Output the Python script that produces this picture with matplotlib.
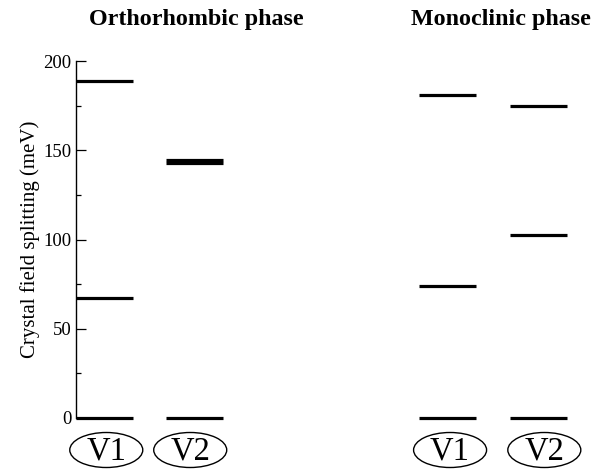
import matplotlib
matplotlib.use("Agg")
import matplotlib.pyplot as plt
from matplotlib.patches import Ellipse

plt.rcParams["font.family"] = ["Liberation Serif", "DejaVu Serif"]

# Crystal field levels (meV) for each vanadium site
ortho_v1 = [0, 67, 189]
ortho_v2 = [0, 143, 144.5]
mono_v1 = [0, 74, 181]
mono_v2 = [0, 102.5, 175]

site_labels = ["V1", "V2", "V1", "V2"]
phase_titles = ["Orthorhombic phase", "Monoclinic phase"]

levels = [ortho_v1, ortho_v2, mono_v1, mono_v2]
col_x = [0.5, 2.08, 6.5, 8.1]       # column centres
label_x = [0.53, 2.0, 6.55, 8.2]    # oval label centres
half_w = 0.5

W, H = 598, 472
fig = plt.figure(figsize=(W / 100, H / 100), dpi=100)
ax_left, ax_right = 76, 590
ax_top, ax_bot = 61, 418
ax = fig.add_axes([ax_left / W, 1 - ax_bot / H,
                   (ax_right - ax_left) / W, (ax_bot - ax_top) / H])

for x, lv in zip(col_x, levels):
    ax.hlines(lv, x - half_w, x + half_w, colors="black", lw=2.3,
              clip_on=False)

ax.set_xlim(0, 9)
ax.set_ylim(0, 200)

for s in ["top", "right", "bottom"]:
    ax.spines[s].set_visible(False)
ax.spines["left"].set_linewidth(1.0)

ax.set_yticks([0, 50, 100, 150, 200])
ax.set_yticks([25, 75, 125, 175], minor=True)
ax.tick_params(axis="y", which="major", direction="in", length=7, width=0.9,
               labelsize=13.5, pad=3.5)
ax.tick_params(axis="y", which="minor", direction="in", length=3.5, width=0.9)
ax.set_xticks([])
ax.set_ylabel("Crystal field splitting (meV)", fontsize=15, labelpad=2)

# Oval site labels under each column
px_per_x = (ax_right - ax_left) / 9
px_per_y = (ax_bot - ax_top) / 200
ey = -(450 - ax_bot) / px_per_y
for x, lab in zip(label_x, site_labels):
    e = Ellipse((x, ey), 73 / px_per_x, 35 / px_per_y, fill=False,
                edgecolor="black", lw=1.0, clip_on=False)
    ax.add_patch(e)
    ax.text(x, ey - 0.5, lab, ha="center", va="center", fontsize=23.5,
            clip_on=False)

fig.text(196 / W, 1 - 19 / H, phase_titles[0], ha="center", va="center",
         fontsize=17.3, fontweight="bold")
fig.text(501 / W, 1 - 19 / H, phase_titles[1], ha="center", va="center",
         fontsize=17.3, fontweight="bold")

fig.savefig("out.png", dpi=100)
